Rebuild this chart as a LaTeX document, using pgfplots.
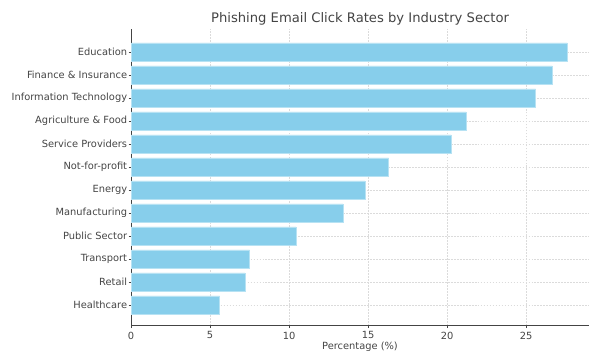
\documentclass[border=0pt]{standalone}
\usepackage{fontspec}
\setmainfont{DejaVu Sans}
\usepackage{pgfplots}
\pgfplotsset{compat=1.18}
\definecolor{skyblue}{HTML}{87CEEB}
\definecolor{txt}{HTML}{444444}
\begin{document}
\begin{tikzpicture}
\useasboundingbox (0,0) rectangle (594bp,352bp);
\begin{axis}[
  at={(131bp,26.3bp)}, anchor=south west,
  scale only axis, width=458bp, height=296.4bp,
  xmin=0, xmax=28.98, ymin=-0.9, ymax=11.99,
  xbar, bar width=0.8, bar shift=0pt,
  ytick={0,...,11},
  yticklabels={Healthcare,Retail,Transport,Public Sector,Manufacturing,Energy,Not-for-profit,Service Providers,Agriculture \& Food,Information Technology,Finance \& Insurance,Education},
  xtick={0,5,...,25},
  axis lines*=left,
  axis line style={draw=txt, line width=0.8pt},
  tick align=outside, major tick length=2.5bp,
  tick style={draw=txt, line width=0.6pt},
  grid=major, grid style={dash pattern=on 1.8pt off 1.2pt, draw=gray!28, line width=0.5pt},
  tick label style={font=\fontsize{9.9}{11}\selectfont, text=txt},
  yticklabel style={inner sep=1.2bp},
  /pgf/number format/assume math mode=true,
  xlabel={Percentage (\%)},
  xlabel style={font=\fontsize{9.9}{11}\selectfont, text=txt, at={(0.5,0)}, anchor=center, yshift=-21bp},
  title={Phishing Email Click Rates by Industry Sector},
  title style={font=\fontsize{13.2}{15}\selectfont, text=txt, at={(0.5,1)}, anchor=center, yshift=4.3bp},
]
\addplot[fill=skyblue, draw=skyblue!60!white, line width=0.4pt] coordinates {
  (5.6,0) (7.2,1) (7.5,2) (10.45,3) (13.4,4) (14.8,5) (16.3,6) (20.25,7) (21.2,8) (25.6,9) (26.65,10) (27.6,11)
};
\end{axis}
\end{tikzpicture}
\end{document}
